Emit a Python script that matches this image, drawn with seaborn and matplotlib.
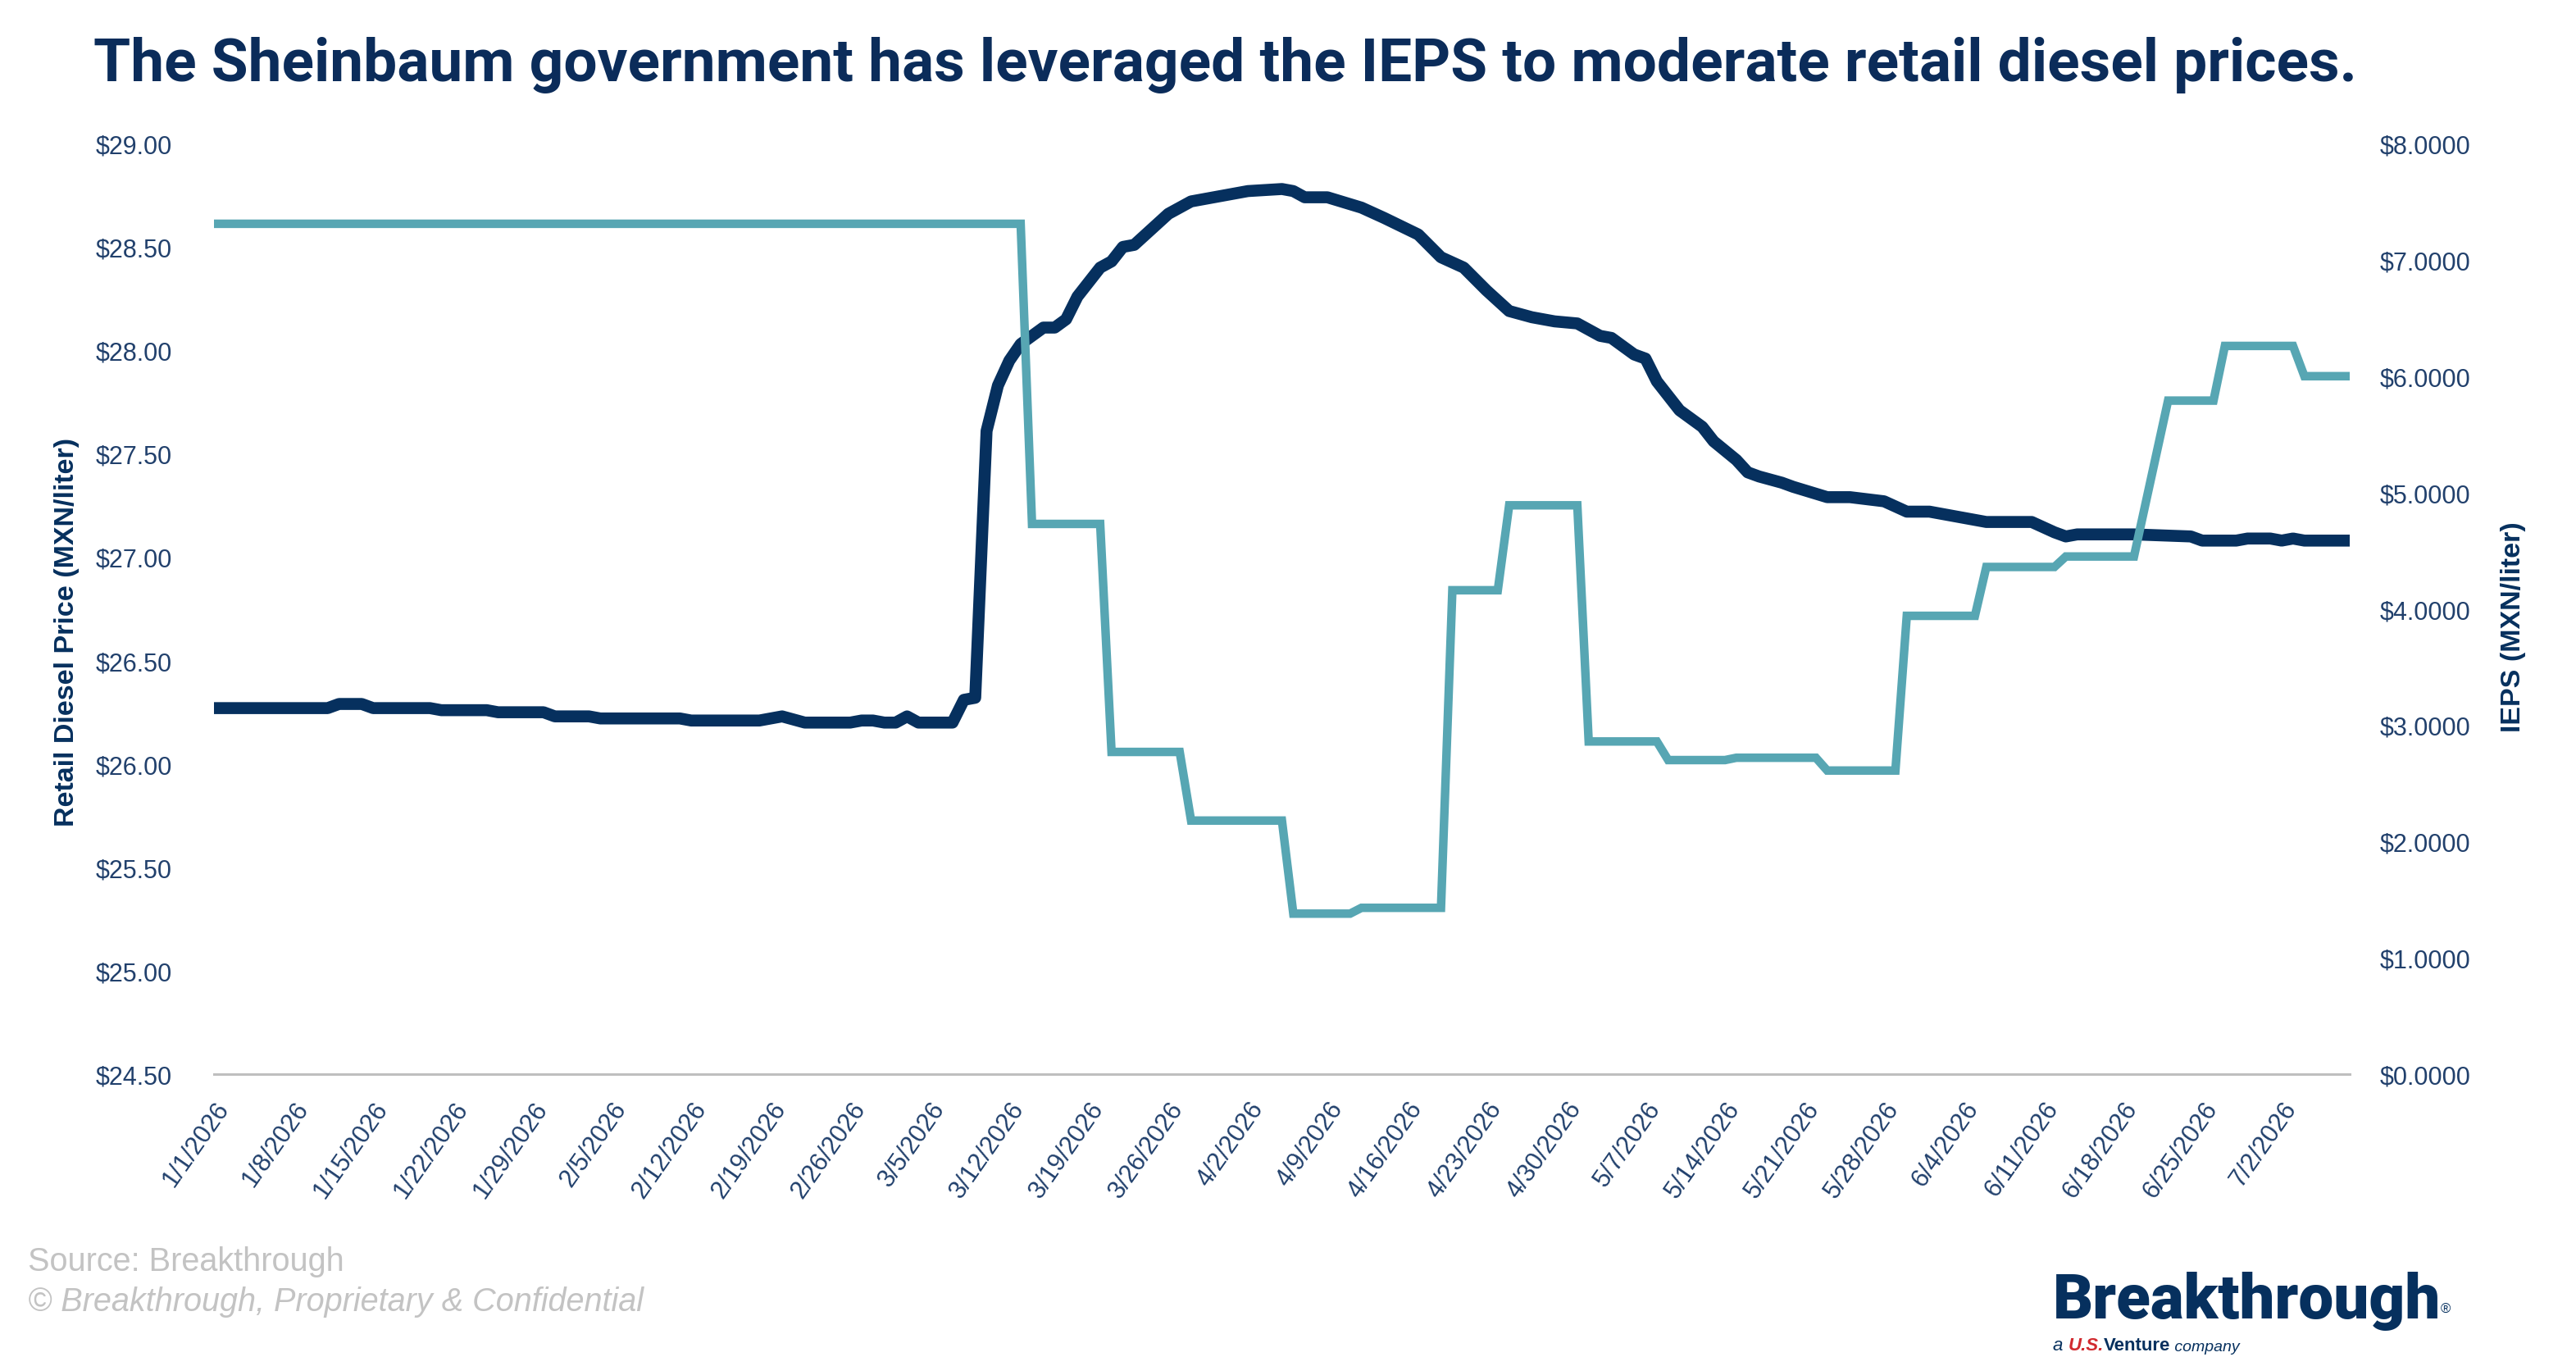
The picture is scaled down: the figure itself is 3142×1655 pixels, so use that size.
import pandas as pd
import matplotlib.pyplot as plt
import seaborn as sns

# Retail diesel price (MXN/liter), vertices
diesel_dates = [
    "2026-01-01", "2026-01-11", "2026-01-12", "2026-01-14", "2026-01-15", "2026-01-20",
    "2026-01-21", "2026-01-25", "2026-01-26", "2026-01-30", "2026-01-31", "2026-02-03",
    "2026-02-04", "2026-02-11", "2026-02-12", "2026-02-18", "2026-02-20", "2026-02-22",
    "2026-02-26", "2026-02-27", "2026-02-28", "2026-03-01", "2026-03-02", "2026-03-03",
    "2026-03-04", "2026-03-07", "2026-03-08", "2026-03-09", "2026-03-10", "2026-03-11",
    "2026-03-12", "2026-03-13", "2026-03-15", "2026-03-16", "2026-03-17", "2026-03-18",
    "2026-03-20", "2026-03-21", "2026-03-22", "2026-03-23", "2026-03-26", "2026-03-28",
    "2026-03-30", "2026-04-02", "2026-04-05", "2026-04-06", "2026-04-07", "2026-04-09",
    "2026-04-12", "2026-04-14", "2026-04-17", "2026-04-19", "2026-04-21", "2026-04-23",
    "2026-04-25", "2026-04-27", "2026-04-29", "2026-05-01", "2026-05-03", "2026-05-04",
    "2026-05-06", "2026-05-07", "2026-05-08", "2026-05-10", "2026-05-12", "2026-05-13",
    "2026-05-15", "2026-05-16", "2026-05-17", "2026-05-19", "2026-05-20", "2026-05-23",
    "2026-05-25", "2026-05-28", "2026-05-30", "2026-06-01", "2026-06-04", "2026-06-06",
    "2026-06-10", "2026-06-12", "2026-06-13", "2026-06-14", "2026-06-19", "2026-06-24",
    "2026-06-25", "2026-06-28", "2026-06-29", "2026-07-01", "2026-07-02", "2026-07-03",
    "2026-07-04", "2026-07-08",
]
diesel_prices = [
    26.27, 26.27, 26.29, 26.29, 26.27, 26.27,
    26.26, 26.26, 26.25, 26.25, 26.23, 26.23,
    26.22, 26.22, 26.21, 26.21, 26.23, 26.20,
    26.20, 26.21, 26.21, 26.20, 26.20, 26.23,
    26.20, 26.20, 26.31, 26.32, 27.61, 27.83,
    27.95, 28.03, 28.11, 28.11, 28.15, 28.26,
    28.40, 28.43, 28.50, 28.51, 28.66, 28.72,
    28.74, 28.77, 28.78, 28.77, 28.74, 28.74,
    28.69, 28.64, 28.56, 28.45, 28.40, 28.29,
    28.19, 28.16, 28.14, 28.13, 28.07, 28.06,
    27.98, 27.96, 27.85, 27.71, 27.63, 27.56,
    27.47, 27.41, 27.39, 27.36, 27.34, 27.29,
    27.29, 27.27, 27.22, 27.22, 27.19, 27.17,
    27.17, 27.12, 27.10, 27.11, 27.11, 27.10,
    27.08, 27.08, 27.09, 27.09, 27.08, 27.09,
    27.08, 27.08,
]

# IEPS on diesel (MXN/liter), vertices of the weekly steps
ieps_dates = [
    "2026-01-01", "2026-03-13", "2026-03-14", "2026-03-20", "2026-03-21", "2026-03-27",
    "2026-03-28", "2026-04-05", "2026-04-06", "2026-04-11", "2026-04-12", "2026-04-19",
    "2026-04-20", "2026-04-24", "2026-04-25", "2026-05-01", "2026-05-02", "2026-05-08",
    "2026-05-09", "2026-05-14", "2026-05-15", "2026-05-22", "2026-05-23", "2026-05-29",
    "2026-05-30", "2026-06-05", "2026-06-06", "2026-06-12", "2026-06-13", "2026-06-19",
    "2026-06-22", "2026-06-26", "2026-06-27", "2026-07-03", "2026-07-04", "2026-07-08",
]
ieps_values = [
    7.31, 7.31, 4.73, 4.73, 2.77, 2.77,
    2.18, 2.18, 1.38, 1.38, 1.43, 1.43,
    4.16, 4.16, 4.89, 4.89, 2.86, 2.86,
    2.70, 2.70, 2.72, 2.72, 2.61, 2.61,
    3.94, 3.94, 4.36, 4.36, 4.45, 4.45,
    5.79, 5.79, 6.26, 6.26, 6.00, 6.00,
]

tick_dates = pd.date_range("2026-01-01", "2026-07-02", freq="7D")
tick_labels = [f"{d.month}/{d.day}/{d.year}" for d in tick_dates]
left_ticks = [24.5, 25.0, 25.5, 26.0, 26.5, 27.0, 27.5, 28.0, 28.5, 29.0]
right_ticks = [0, 1, 2, 3, 4, 5, 6, 7, 8]

title = "The Sheinbaum government has leveraged the IEPS to moderate retail diesel prices."
navy = "#06305E"
teal = "#57A6B3"
tick_color = "#21406C"
grey = "#C3C3C3"

sns.set_theme(style="white")
plt.rcParams["font.family"] = ["Liberation Sans", "DejaVu Sans"]

diesel = pd.DataFrame({"Date": pd.to_datetime(diesel_dates), "Price": diesel_prices})
ieps = pd.DataFrame({"Date": pd.to_datetime(ieps_dates), "IEPS": ieps_values})

fig = plt.figure(figsize=(31.42, 16.56), dpi=100)
ax = fig.add_axes([0.0831, 0.2083, 0.8291, 0.6854])

sns.lineplot(data=diesel, x="Date", y="Price", ax=ax, color=navy, linewidth=10.5,
             solid_capstyle="round", solid_joinstyle="round")
ax2 = ax.twinx()
sns.lineplot(data=ieps, x="Date", y="IEPS", ax=ax2, color=teal, linewidth=7.5,
             solid_capstyle="round", solid_joinstyle="miter")

# Axes ranges and ticks
ax.set_xlim(pd.Timestamp("2026-01-01"), pd.Timestamp("2026-07-08"))
ax.set_ylim(24.5, 29.0)
ax2.set_ylim(0, 8)
ax.set_xticks(tick_dates)
ax.set_xticklabels(tick_labels, rotation=55, ha="right", rotation_mode="anchor")
ax.set_yticks(left_ticks)
ax.set_yticklabels([f"${v:.2f}" for v in left_ticks])
ax2.set_yticks(right_ticks)
ax2.set_yticklabels([f"${v:.4f}" for v in right_ticks])

ax.tick_params(axis="x", length=0, pad=20, labelsize=22, colors=tick_color)
ax.tick_params(axis="y", length=0, pad=37, labelsize=22, colors=tick_color)
ax2.tick_params(axis="y", length=0, pad=26, labelsize=22, colors=tick_color)

for s in ["top", "left", "right"]:
    ax.spines[s].set_visible(False)
ax.spines["bottom"].set_color("#BFBFBF")
ax.spines["bottom"].set_linewidth(2.2)
for s in ax2.spines.values():
    s.set_visible(False)
ax.grid(False)
ax2.grid(False)

ax.set_xlabel("")
ax.set_ylabel("Retail Diesel Price (MXN/liter)", fontsize=24.5, fontweight="bold", color=navy)
ax.yaxis.set_label_coords(-0.063, 0.476)
ax2.set_ylabel("IEPS (MXN/liter)", fontsize=24.5, fontweight="bold", color=navy)
ax2.yaxis.set_label_coords(1.0706, 0.481)

# Title and footer
fig.text(0.0363, 0.952, title, fontsize=52.6, fontweight="bold", color="#0B2C5A",
         va="center", ha="left", family=["Roboto", "DejaVu Sans"])
fig.text(0.0108, 0.0707, "Source: Breakthrough", fontsize=28.5, color=grey, va="center")
fig.text(0.0108, 0.041, "\u00a9 Breakthrough, Proprietary & Confidential", fontsize=28.5,
         color=grey, va="center", style="italic")

# Logo rendered as text
fig.text(0.797, 0.0415, "Breakthrough", fontsize=55, fontweight="heavy", color=navy,
         va="center", ha="left", family=["Roboto", "DejaVu Sans"])
fig.text(0.9475, 0.0355, "\u00ae", fontsize=12, color=navy, va="center")
a_txt = fig.text(0.797, 0.0085, "a ", fontsize=16, color=navy, va="center", style="italic")
us_txt = ax.annotate("U.S.", xy=(1, 0), xycoords=a_txt, va="bottom", fontsize=16,
                     color="#D12A2F", fontweight="bold", style="italic")
v_txt = ax.annotate("Venture", xy=(1, 0), xycoords=us_txt, va="bottom", fontsize=16,
                    color=navy, fontweight="bold")
ax.annotate(" company", xy=(1, 0), xycoords=v_txt, va="bottom", fontsize=14,
            color=navy, style="italic")

fig.savefig("out.png", dpi=100)
